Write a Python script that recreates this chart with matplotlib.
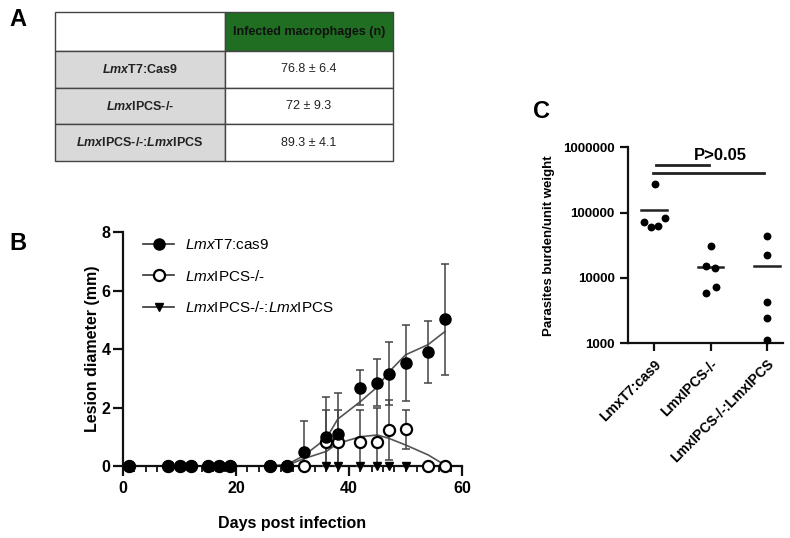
import matplotlib
matplotlib.use("Agg")
import matplotlib.pyplot as plt
from matplotlib.patches import Rectangle
from matplotlib.lines import Line2D
import numpy as np

plt.rcParams['font.family'] = ['Liberation Sans', 'DejaVu Sans']
plt.rcParams['mathtext.fontset'] = 'custom'
plt.rcParams['mathtext.rm'] = 'Liberation Sans'
plt.rcParams['mathtext.it'] = 'Liberation Sans:italic'
plt.rcParams['mathtext.bf'] = 'Liberation Sans:bold'
plt.rcParams['mathtext.bfit'] = 'Liberation Sans:italic:bold'

# ---------------- Panel A data ----------------
table_header = "Infected macrophages (n)"
table_rows = [r"$\mathbfit{Lmx}$T7:Cas9", r"$\mathbfit{Lmx}$IPCS-/-",
              r"$\mathbfit{Lmx}$IPCS-/-:$\mathbfit{Lmx}$IPCS"]
table_values = ["76.8 ± 6.4", "72 ± 9.3", "89.3 ± 4.1"]

# ---------------- Panel B data ----------------
days = [1, 8, 10, 12, 15, 17, 19, 26, 29, 32, 36, 38, 42, 45, 47, 50, 54, 57]
cas9_mean = [0, 0, 0, 0, 0, 0, 0, 0, 0, 0.47, 1.0, 1.08, 2.68, 2.85, 3.16, 3.52, 3.9, 5.02]
cas9_sd = [0, 0, 0, 0, 0, 0, 0, 0, 0, 1.08, 1.37, 1.43, 0.6, 0.8, 1.08, 1.3, 1.06, 1.9]
ko_mean = [0, 0, 0, 0, 0, 0, 0, 0, 0, 0, 0.83, 0.83, 0.81, 0.83, 1.23, 1.25, 0, 0]
ko_sd = [0, 0, 0, 0, 0, 0, 0, 0, 0, 0, 1.08, 1.08, 1.1, 1.17, 1.04, 0.68, 0, 0]
ab_mean = [0] * 18
ab_sd = [0] * 18
# smoothed curves
cas9_fit_x = [26, 29, 32, 36, 38, 42, 45, 47, 50, 54, 57]
cas9_fit_y = [0, 0.05, 0.35, 0.95, 1.6, 2.2, 2.7, 3.2, 3.8, 4.15, 4.6]
ko_fit_x = [26, 29, 32, 36, 38, 42, 45, 47, 50, 54, 57]
ko_fit_y = [0, 0.02, 0.25, 0.5, 0.77, 1.0, 1.06, 0.95, 0.72, 0.38, 0.03]
legend_labels = [r"$\mathit{Lmx}$T7:cas9", r"$\mathit{Lmx}$IPCS-/-",
                 r"$\mathit{Lmx}$IPCS-/-:$\mathit{Lmx}$IPCS"]

# ---------------- Panel C data ----------------
groups = ["LmxT7:cas9", "LmxIPCS-/-", "LmxIPCS-/-:LmxIPCS"]
burden_cas9 = [271600, 72800, 61000, 63000, 83600]
burden_ko = [30800, 15400, 14060, 7350, 5950]
burden_ab = [44400, 22700, 4340, 2460, 1120]
jitter_cas9 = [0.01, -0.18, -0.06, 0.06, 0.18]
jitter_ko = [0.0, -0.08, 0.08, 0.09, -0.08]
jitter_ab = [0, 0, 0, 0, 0]
p_text = "P>0.05"

W, H = 790, 538
fig = plt.figure(figsize=(W / 100, H / 100), dpi=100)

# overlay axes in pixel coordinates for table
ov = fig.add_axes([0, 0, 1, 1])
ov.set_xlim(0, W)
ov.set_ylim(H, 0)
ov.axis('off')

tx0, tx1, tcol = 55, 393, 225
row_edges = [12, 51, 88, 124, 161]
edge = '#444444'
# header
ov.add_patch(Rectangle((tx0, row_edges[0]), tcol - tx0, row_edges[1] - row_edges[0],
                       facecolor='white', edgecolor=edge, lw=1))
ov.add_patch(Rectangle((tcol, row_edges[0]), tx1 - tcol, row_edges[1] - row_edges[0],
                       facecolor='#1f6e21', edgecolor=edge, lw=1))
ov.text((tcol + tx1) / 2, (row_edges[0] + row_edges[1]) / 2 + 1, table_header,
        ha='center', va='center', fontsize=9, fontweight='bold', color='#111111')
for i, (lab, val) in enumerate(zip(table_rows, table_values)):
    y0, y1 = row_edges[i + 1], row_edges[i + 2]
    ov.add_patch(Rectangle((tx0, y0), tcol - tx0, y1 - y0, facecolor='#d9d9d9',
                           edgecolor=edge, lw=1))
    ov.add_patch(Rectangle((tcol, y0), tx1 - tcol, y1 - y0, facecolor='white',
                           edgecolor=edge, lw=1))
    ov.text((tx0 + tcol) / 2, (y0 + y1) / 2, lab, ha='center', va='center',
            fontsize=9, fontweight='bold', color='#222222')
    ov.text((tcol + tx1) / 2, (y0 + y1) / 2, val, ha='center', va='center',
            fontsize=9, color='#222222')

ov.text(18, 20, "A", fontsize=17, fontweight='bold', ha='center', va='center')
ov.text(18, 243, "B", fontsize=17, fontweight='bold', ha='center', va='center')
ov.text(541, 112, "C", fontsize=17, fontweight='bold', ha='center', va='center')

# ---------------- Panel B ----------------
axB = fig.add_axes([123 / W, (H - 466) / H, 339 / W, 234 / H])
axB.set_xlim(0, 60)
axB.set_ylim(0, 8)
for s in ['top', 'right']:
    axB.spines[s].set_visible(False)
for s in ['left', 'bottom']:
    axB.spines[s].set_linewidth(1.6)
    axB.spines[s].set_color('#111111')
axB.set_xticks([0, 20, 40, 60])
axB.set_xticks(np.arange(0, 61, 2), minor=True)
axB.set_yticks([0, 2, 4, 6, 8])
axB.tick_params(axis='both', which='major', direction='out', length=7, width=1.6,
                labelsize=11.5, color='#111111')
axB.tick_params(axis='y', pad=2)
axB.tick_params(axis='x', which='minor', direction='out', length=4, width=1.3,
                color='#111111')
for lab in axB.get_xticklabels() + axB.get_yticklabels():
    lab.set_fontweight('bold')
axB.set_xlabel("Days post infection", fontsize=11.5, fontweight='bold', labelpad=15)
axB.set_ylabel("Lesion diameter (mm)", fontsize=11.5, fontweight='bold')
axB.yaxis.set_label_coords(-0.068, 0.5)

curve_c = '#555555'
axB.plot(cas9_fit_x, cas9_fit_y, color=curve_c, lw=1.2, zorder=2, clip_on=False)
axB.plot(ko_fit_x, ko_fit_y, color=curve_c, lw=1.2, zorder=2, clip_on=False)
axB.plot([days[0], days[-1]], [ab_mean[0], ab_mean[-1]], color=curve_c, lw=1.2,
         zorder=2, clip_on=False)


def yerr_of(m, s):
    m = np.array(m, float)
    s = np.array(s, float)
    return np.vstack([np.minimum(s, m), s])


for mean, sd in [(ab_mean, ab_sd), (ko_mean, ko_sd), (cas9_mean, cas9_sd)]:
    mask = np.array(sd) > 0
    if mask.any():
        eb = axB.errorbar(np.array(days)[mask], np.array(mean)[mask],
                          yerr=yerr_of(mean, sd)[:, mask], fmt='none',
                          ecolor='#444444', elinewidth=1.1, capsize=3, capthick=1.1,
                          zorder=3)
        for c in eb.get_children():
            c.set_clip_on(False)

axB.plot(days, ab_mean, linestyle='none', marker='v', ms=6, color='black',
         zorder=4, clip_on=False)
axB.plot(days, ko_mean, linestyle='none', marker='o', ms=8, mfc='white', mec='black',
         mew=1.6, zorder=5, clip_on=False)
axB.plot(days, cas9_mean, linestyle='none', marker='o', ms=8, color='black',
         zorder=6, clip_on=False)

handles = [
    Line2D([], [], color='#333333', lw=1.2, marker='o', ms=8, mfc='black', mec='black'),
    Line2D([], [], color='#333333', lw=1.2, marker='o', ms=8, mfc='white', mec='black', mew=1.6),
    Line2D([], [], color='#333333', lw=1.2, marker='v', ms=6, mfc='black', mec='black'),
]
axB.legend(handles, legend_labels, loc='upper left', bbox_to_anchor=(0.06, 0.975),
           frameon=False, fontsize=11, handlelength=2.0, handletextpad=0.7,
           labelspacing=1.1, borderpad=0, borderaxespad=0)

# ---------------- Panel C ----------------
axC = fig.add_axes([628 / W, (H - 343.3) / H, 155 / W, 196 / H])
axC.set_yscale('log')
axC.set_ylim(1000, 1e6)
axC.set_xlim(-0.47, 2.29)
for s in ['top', 'right']:
    axC.spines[s].set_visible(False)
for s in ['left', 'bottom']:
    axC.spines[s].set_linewidth(1.6)
    axC.spines[s].set_color('#111111')
axC.set_yticks([1000, 10000, 100000, 1000000])
axC.set_yticklabels(["1000", "10000", "100000", "1000000"])
axC.yaxis.set_minor_locator(matplotlib.ticker.NullLocator())
axC.set_xticks([0, 1, 2])
axC.set_xticklabels(groups, rotation=45, ha='right', rotation_mode='anchor')
axC.tick_params(axis='both', which='major', direction='out', length=6, width=1.6,
                labelsize=9.5, color='#111111')
axC.tick_params(axis='x', pad=4, labelsize=10)
for lab in axC.get_xticklabels() + axC.get_yticklabels():
    lab.set_fontweight('bold')
axC.set_ylabel("Parasites burden/unit weight", fontsize=9.5, fontweight='bold',
               labelpad=6)

for i, (vals, jit) in enumerate([(burden_cas9, jitter_cas9), (burden_ko, jitter_ko),
                                 (burden_ab, jitter_ab)]):
    axC.scatter(np.array(jit) + i, vals, s=32, color='black', zorder=4, clip_on=False,
                linewidths=0)
    m = np.mean(vals)
    axC.plot([i - 0.23, i + 0.23], [m, m], color='#222222', lw=1.8, zorder=3)

axC.plot([0.02, 0.97], [536000, 536000], color='#222222', lw=2, clip_on=False)
axC.plot([-0.02, 1.95], [400000, 400000], color='#222222', lw=2, clip_on=False)
axC.text(1.17, 10 ** 5.88, p_text, ha='center', va='center', fontsize=12,
         fontweight='bold')

fig.savefig("out.png", dpi=100)
